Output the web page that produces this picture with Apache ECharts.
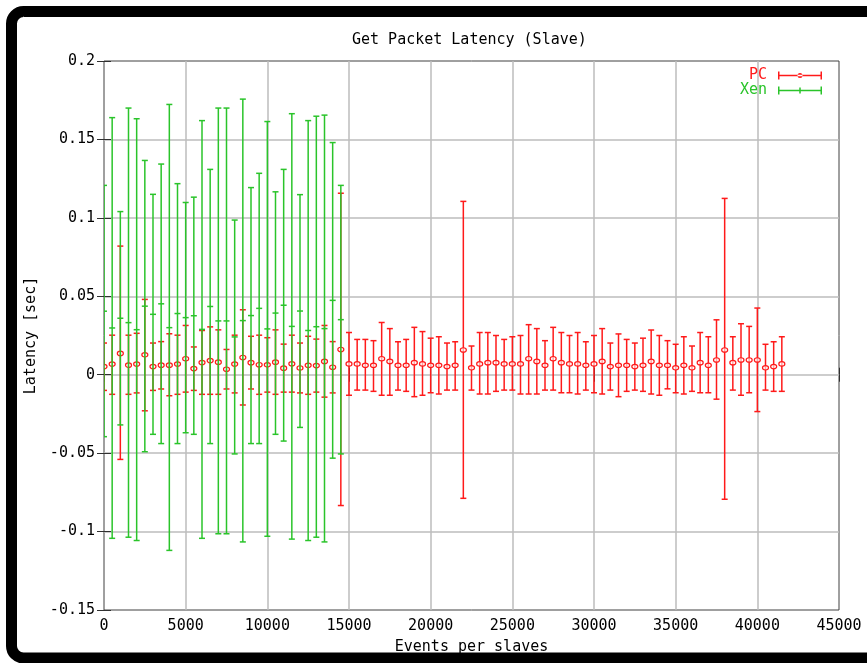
<!DOCTYPE html>
<html>
<head>
<meta charset="utf-8">
<script src="https://cdn.jsdelivr.net/npm/echarts@6/dist/echarts.min.js"></script>
<style>
html,body{margin:0;padding:0;background:#fff;}
#chart{width:867px;height:663px;}
</style>
</head>
<body>
<div id="chart"></div>
<script>
// ---- data ----
const titleText = 'Get Packet Latency (Slave)';
const xAxisName = 'Events per slaves';
const yAxisName = 'Latency [sec]';
const seriesNames = ['PC', 'Xen'];

const pcEvents = [0,500,1000,1500,2000,2500,3000,3500,4000,4500,5000,5500,6000,6500,7000,7500,8000,8500,9000,9500,
  10000,10500,11000,11500,12000,12500,13000,13500,14000,14500,15000,15500,16000,16500,17000,17500,18000,18500,19000,19500,
  20000,20500,21000,21500,22000,22500,23000,23500,24000,24500,25000,25500,26000,26500,27000,27500,28000,28500,29000,29500,
  30000,30500,31000,31500,32000,32500,33000,33500,34000,34500,35000,35500,36000,36500,37000,37500,38000,38500,39000,39500,
  40000,40500,41000,41500];
const pcMean = [0.0052,0.0068,0.0136,0.0061,0.0068,0.0127,0.0052,0.0061,0.0061,0.0068,
  0.0102,0.0039,0.0078,0.0090,0.0080,0.0035,0.0068,0.0110,0.0077,0.0064,
  0.0063,0.0080,0.0042,0.0070,0.0043,0.0060,0.0058,0.0085,0.0048,0.0161,
  0.0069,0.0069,0.0060,0.0060,0.0102,0.0085,0.0060,0.0060,0.0077,0.0069,
  0.0060,0.0060,0.0052,0.0060,0.0158,0.0044,0.0069,0.0077,0.0077,0.0069,
  0.0069,0.0069,0.0102,0.0085,0.0060,0.0102,0.0077,0.0069,0.0069,0.0060,
  0.0069,0.0085,0.0052,0.0060,0.0060,0.0052,0.0060,0.0085,0.0060,0.0060,
  0.0044,0.0060,0.0044,0.0077,0.0060,0.0094,0.0158,0.0077,0.0094,0.0094,
  0.0094,0.0044,0.0052,0.0069];
const pcLow = [-0.0100,-0.0125,-0.0540,-0.0125,-0.0116,-0.0230,-0.0100,-0.0091,-0.0134,-0.0125,
  -0.0111,-0.0100,-0.0125,-0.0125,-0.0125,-0.0091,-0.0116,-0.0193,-0.0091,-0.0125,
  -0.0111,-0.0125,-0.0111,-0.0111,-0.0116,-0.0125,-0.0111,-0.0143,-0.0116,-0.0834,
  -0.0131,-0.0098,-0.0098,-0.0106,-0.0131,-0.0131,-0.0098,-0.0106,-0.0140,-0.0131,
  -0.0115,-0.0123,-0.0098,-0.0098,-0.0788,-0.0098,-0.0123,-0.0123,-0.0106,-0.0098,
  -0.0098,-0.0123,-0.0123,-0.0123,-0.0098,-0.0098,-0.0115,-0.0115,-0.0123,-0.0098,
  -0.0115,-0.0123,-0.0098,-0.0140,-0.0106,-0.0098,-0.0106,-0.0123,-0.0131,-0.0090,
  -0.0115,-0.0123,-0.0106,-0.0115,-0.0115,-0.0156,-0.0794,-0.0098,-0.0131,-0.0115,
  -0.0235,-0.0098,-0.0106,-0.0106];
const pcHigh = [0.0202,0.0252,0.0820,0.0252,0.0264,0.0480,0.0202,0.0211,0.0261,0.0252,
  0.0314,0.0177,0.0282,0.0305,0.0286,0.0161,0.0252,0.0414,0.0245,0.0252,
  0.0236,0.0286,0.0195,0.0252,0.0202,0.0245,0.0227,0.0314,0.0211,0.1157,
  0.0269,0.0225,0.0225,0.0217,0.0333,0.0294,0.0210,0.0225,0.0302,0.0275,
  0.0233,0.0242,0.0202,0.0210,0.1105,0.0183,0.0269,0.0269,0.0250,0.0225,
  0.0242,0.0250,0.0319,0.0294,0.0217,0.0302,0.0269,0.0250,0.0269,0.0210,
  0.0250,0.0294,0.0202,0.0260,0.0225,0.0202,0.0233,0.0285,0.0250,0.0217,
  0.0194,0.0242,0.0183,0.0269,0.0242,0.0350,0.1124,0.0242,0.0325,0.0308,
  0.0425,0.0194,0.0210,0.0242];

const xenEvents = [0,500,1000,1500,2000,2500,3000,3500,4000,4500,5000,5500,6000,6500,7000,7500,8000,8500,9000,9500,
  10000,10500,11000,11500,12000,12500,13000,13500,14000,14500];
const xenMean = [0.0405,0.0298,0.0360,0.0332,0.0287,0.0437,0.0385,0.0452,0.0300,0.0390,
  0.0364,0.0376,0.0289,0.0435,0.0343,0.0343,0.0241,0.0345,0.0377,0.0423,
  0.0292,0.0393,0.0443,0.0308,0.0406,0.0282,0.0306,0.0294,0.0474,0.0351];
const xenLow = [-0.0395,-0.1043,-0.0320,-0.1036,-0.1057,-0.0491,-0.0380,-0.0439,-0.1120,-0.0439,
  -0.0370,-0.0380,-0.1043,-0.0439,-0.1014,-0.1014,-0.0505,-0.1066,-0.0439,-0.0439,
  -0.1030,-0.0380,-0.0423,-0.1048,-0.0336,-0.1057,-0.1036,-0.1066,-0.0532,-0.0505];
const xenHigh = [0.1207,0.1639,0.1040,0.1700,0.1632,0.1366,0.1150,0.1343,0.1723,0.1218,
  0.1098,0.1132,0.1620,0.1309,0.1700,0.1700,0.0986,0.1757,0.1193,0.1284,
  0.1614,0.1166,0.1309,0.1664,0.1148,0.1620,0.1648,0.1655,0.1480,0.1207];

const xTicks = {min: 0, max: 45000, interval: 5000};
const yTicks = {min: -0.15, max: 0.2, interval: 0.05};

// ---- chart ----
const FONT = 'DejaVu Sans Mono';
const RED = '#ff1a1a';
const GREEN = '#2ac42a';

const pcData = pcEvents.map((e, i) => [e, pcLow[i], pcHigh[i], pcMean[i]]);
const xenData = xenEvents.map((e, i) => [e, xenLow[i], xenHigh[i], xenMean[i]]);

function errorRender(color, marker) {
  return function (params, api) {
    const x = api.value(0);
    const pLo = api.coord([x, api.value(1)]);
    const pHi = api.coord([x, api.value(2)]);
    const pM = api.coord([x, api.value(3)]);
    const st = {stroke: color, lineWidth: 1.5};
    const cw = 3;
    const children = [
      {type: 'line', shape: {x1: pLo[0], y1: pLo[1], x2: pHi[0], y2: pHi[1]}, style: st},
      {type: 'line', shape: {x1: pLo[0] - cw, y1: pLo[1], x2: pLo[0] + cw, y2: pLo[1]}, style: st},
      {type: 'line', shape: {x1: pHi[0] - cw, y1: pHi[1], x2: pHi[0] + cw, y2: pHi[1]}, style: st}
    ];
    if (marker === 'circle') {
      children.push({type: 'ellipse', shape: {cx: pM[0], cy: pM[1], rx: 3, ry: 2.2},
        style: {stroke: color, lineWidth: 1.2, fill: 'rgba(255,255,255,0.6)'}});
    } else {
      children.push({type: 'line', shape: {x1: pM[0] - 3, y1: pM[1], x2: pM[0] + 3, y2: pM[1]}, style: st});
    }
    return {type: 'group', children: children};
  };
}

const tickStyle = {color: '#303030', width: 1};
const labelStyle = {fontFamily: FONT, fontSize: 15, color: '#000'};

const option = {
  backgroundColor: '#fff',
  animation: false,
  title: {
    text: titleText, left: 347, top: 28,
    textStyle: {fontFamily: FONT, fontSize: 15, fontWeight: 'normal', color: '#000'}
  },
  legend: {
    orient: 'vertical', right: 40, top: 63, align: 'right',
    itemWidth: 44, itemHeight: 8, itemGap: 0,
    textStyle: {fontFamily: FONT, fontSize: 15, lineHeight: 15, padding: [0, 6, 0, 0]},
    data: [
      {name: 'PC', textStyle: {color: RED},
       icon: 'path://M0,3.25h44v1.5H0z M0,0h1.5v8H0z M42.5,0h1.5v8h-1.5z M19.5,4a2.5,2.5 0 1,0 5,0a2.5,2.5 0 1,0 -5,0z'},
      {name: 'Xen', textStyle: {color: GREEN},
       icon: 'path://M0,3.25h44v1.5H0z M0,0h1.5v8H0z M42.5,0h1.5v8h-1.5z M21.25,1h1.5v6h-1.5z'}
    ]
  },
  grid: {left: 104, right: 28, top: 61, bottom: 53, show: true, borderColor: '#404040', borderWidth: 1, backgroundColor: 'transparent'},
  xAxis: [{
    type: 'value', min: xTicks.min, max: xTicks.max, interval: xTicks.interval, position: 'bottom',
    name: xAxisName, nameLocation: 'middle', nameGap: 30,
    nameTextStyle: {fontFamily: FONT, fontSize: 15, color: '#000'},
    axisLine: {show: false},
    axisTick: {inside: true, length: 7, lineStyle: tickStyle},
    axisLabel: Object.assign({margin: 9, formatter: v => String(v)}, labelStyle),
    splitLine: {show: true, showMinLine: false, showMaxLine: false, lineStyle: {color: '#bcbcbc', width: 1.5}}
  }, {
    type: 'value', min: xTicks.min, max: xTicks.max, interval: xTicks.interval, position: 'top',
    axisLine: {show: false}, axisTick: {inside: true, length: 7, lineStyle: tickStyle},
    axisLabel: {show: false}, splitLine: {show: false}
  }],
  yAxis: [{
    type: 'value', min: yTicks.min, max: yTicks.max, interval: yTicks.interval, position: 'left',
    name: yAxisName, nameLocation: 'middle', nameGap: 64, nameRotate: 90,
    nameTextStyle: {fontFamily: FONT, fontSize: 15, color: '#000'},
    axisLine: {show: false},
    axisTick: {inside: true, length: 7, lineStyle: tickStyle},
    axisLabel: Object.assign({margin: 9}, labelStyle),
    splitLine: {show: true, showMinLine: false, showMaxLine: false, lineStyle: {color: '#bcbcbc', width: 1.5}}
  }, {
    type: 'value', min: yTicks.min, max: yTicks.max, interval: yTicks.interval, position: 'right',
    axisLine: {show: false}, axisTick: {inside: true, length: 7, lineStyle: tickStyle},
    axisLabel: {show: false}, splitLine: {show: false}
  }],
  graphic: [{
    type: 'rect', silent: true, z: -10,
    shape: {x: 11.5, y: 11.5, width: 900, height: 646.5, r: 12},
    style: {fill: 'none', stroke: '#000', lineWidth: 11}
  }],
  series: [{
    name: 'PC', type: 'custom', xAxisIndex: 0, yAxisIndex: 0,
    itemStyle: {color: RED},
    encode: {x: 0, y: [1, 2, 3]},
    renderItem: errorRender(RED, 'circle'),
    data: pcData, z: 2, clip: true
  }, {
    name: 'Xen', type: 'custom', xAxisIndex: 0, yAxisIndex: 0,
    itemStyle: {color: GREEN},
    encode: {x: 0, y: [1, 2, 3]},
    renderItem: errorRender(GREEN, 'plus'),
    data: xenData, z: 3, clip: true
  }]
};

const chart = echarts.init(document.getElementById('chart'), null, {renderer: 'canvas'});
chart.setOption(option);
</script>
</body>
</html>
